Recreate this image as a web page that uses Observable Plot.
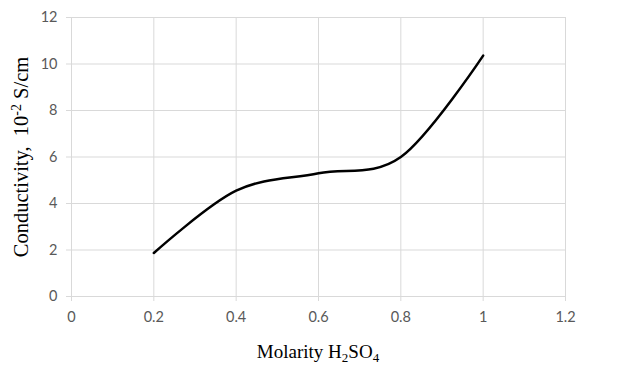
<!DOCTYPE html>
<html>
<head>
<meta charset="utf-8">
<script src="https://cdn.jsdelivr.net/npm/d3@7"></script>
<script src="https://cdn.jsdelivr.net/npm/@observablehq/plot@0.6"></script>
<style>
  html, body { margin: 0; padding: 0; background: #fff; }
  #chart { width: 618px; height: 365px; }
</style>
</head>
<body>
<div id="chart"></div>
<script>
const molarity = [0.2, 0.4, 0.6, 0.8, 1.0];
const conductivity = [1.87, 4.55, 5.3, 6.0, 10.36];
const xTicks = [0, 0.2, 0.4, 0.6, 0.8, 1, 1.2];
const yTicks = [0, 2, 4, 6, 8, 10, 12];

const data = molarity.map((m, i) => ({m, c: conductivity[i]}));
const gridColor = "#d9d9d9";
const tickFont = "Lato, 'Open Sans', sans-serif";

const plot = Plot.plot({
  width: 618,
  height: 365,
  marginLeft: 71,
  marginRight: 53,
  marginTop: 17,
  marginBottom: 69,
  style: {background: "#fff", fontFamily: tickFont, fontSize: "14px", color: "#595959"},
  x: {domain: [0, 1.2], label: null},
  y: {domain: [0, 12], label: null},
  marks: [
    Plot.gridX(xTicks, {stroke: gridColor, strokeOpacity: 1, strokeWidth: 1}),
    Plot.gridY(yTicks, {stroke: gridColor, strokeOpacity: 1, strokeWidth: 1}),
    Plot.axisX(xTicks, {tickSize: 5, tickPadding: 10, stroke: gridColor, fill: "#595959", tickFormat: d => String(d), fontSize: 14}),
    Plot.axisY(yTicks, {tickSize: 5, tickPadding: 9, stroke: gridColor, fill: "#595959", tickFormat: d => String(d), fontSize: 14}),
    Plot.ruleY([0], {stroke: gridColor, strokeWidth: 1.2}),
    Plot.line(data, {x: "m", y: "c", curve: "cardinal", tension: 0, stroke: "#000", strokeWidth: 2.5})
  ]
});
document.getElementById("chart").appendChild(plot);

const svg = d3.select(plot);
svg.selectAll('g[aria-label$="tick label"]').attr("font-size", 14.5).style("font-size", "14.5px");
svg.selectAll('g[aria-label$="tick label"] text').attr("font-size", 14.5);

const serif = "'Liberation Serif', 'Times New Roman', serif";
// x axis title
const xt = svg.append("text")
  .attr("x", 318).attr("y", 358)
  .attr("text-anchor", "middle")
  .attr("font-family", serif).attr("font-size", 19).attr("fill", "#000");
xt.append("tspan").text("Molarity H");
xt.append("tspan").attr("font-size", 13).attr("dy", 3.5).text("2");
xt.append("tspan").attr("dy", -3.5).text("SO");
xt.append("tspan").attr("font-size", 13).attr("dy", 3.5).text("4");

// y axis title
const yt = svg.append("text")
  .attr("transform", "translate(28,157) rotate(-90)")
  .attr("text-anchor", "middle")
  .attr("font-family", serif).attr("font-size", 20.5).attr("fill", "#000")
  .attr("xml:space", "preserve");
yt.append("tspan").text("Conductivity,  10");
yt.append("tspan").attr("font-size", 14).attr("dy", -7).text("-2");
yt.append("tspan").attr("dy", 7).text(" S/cm");
</script>
</body>
</html>
